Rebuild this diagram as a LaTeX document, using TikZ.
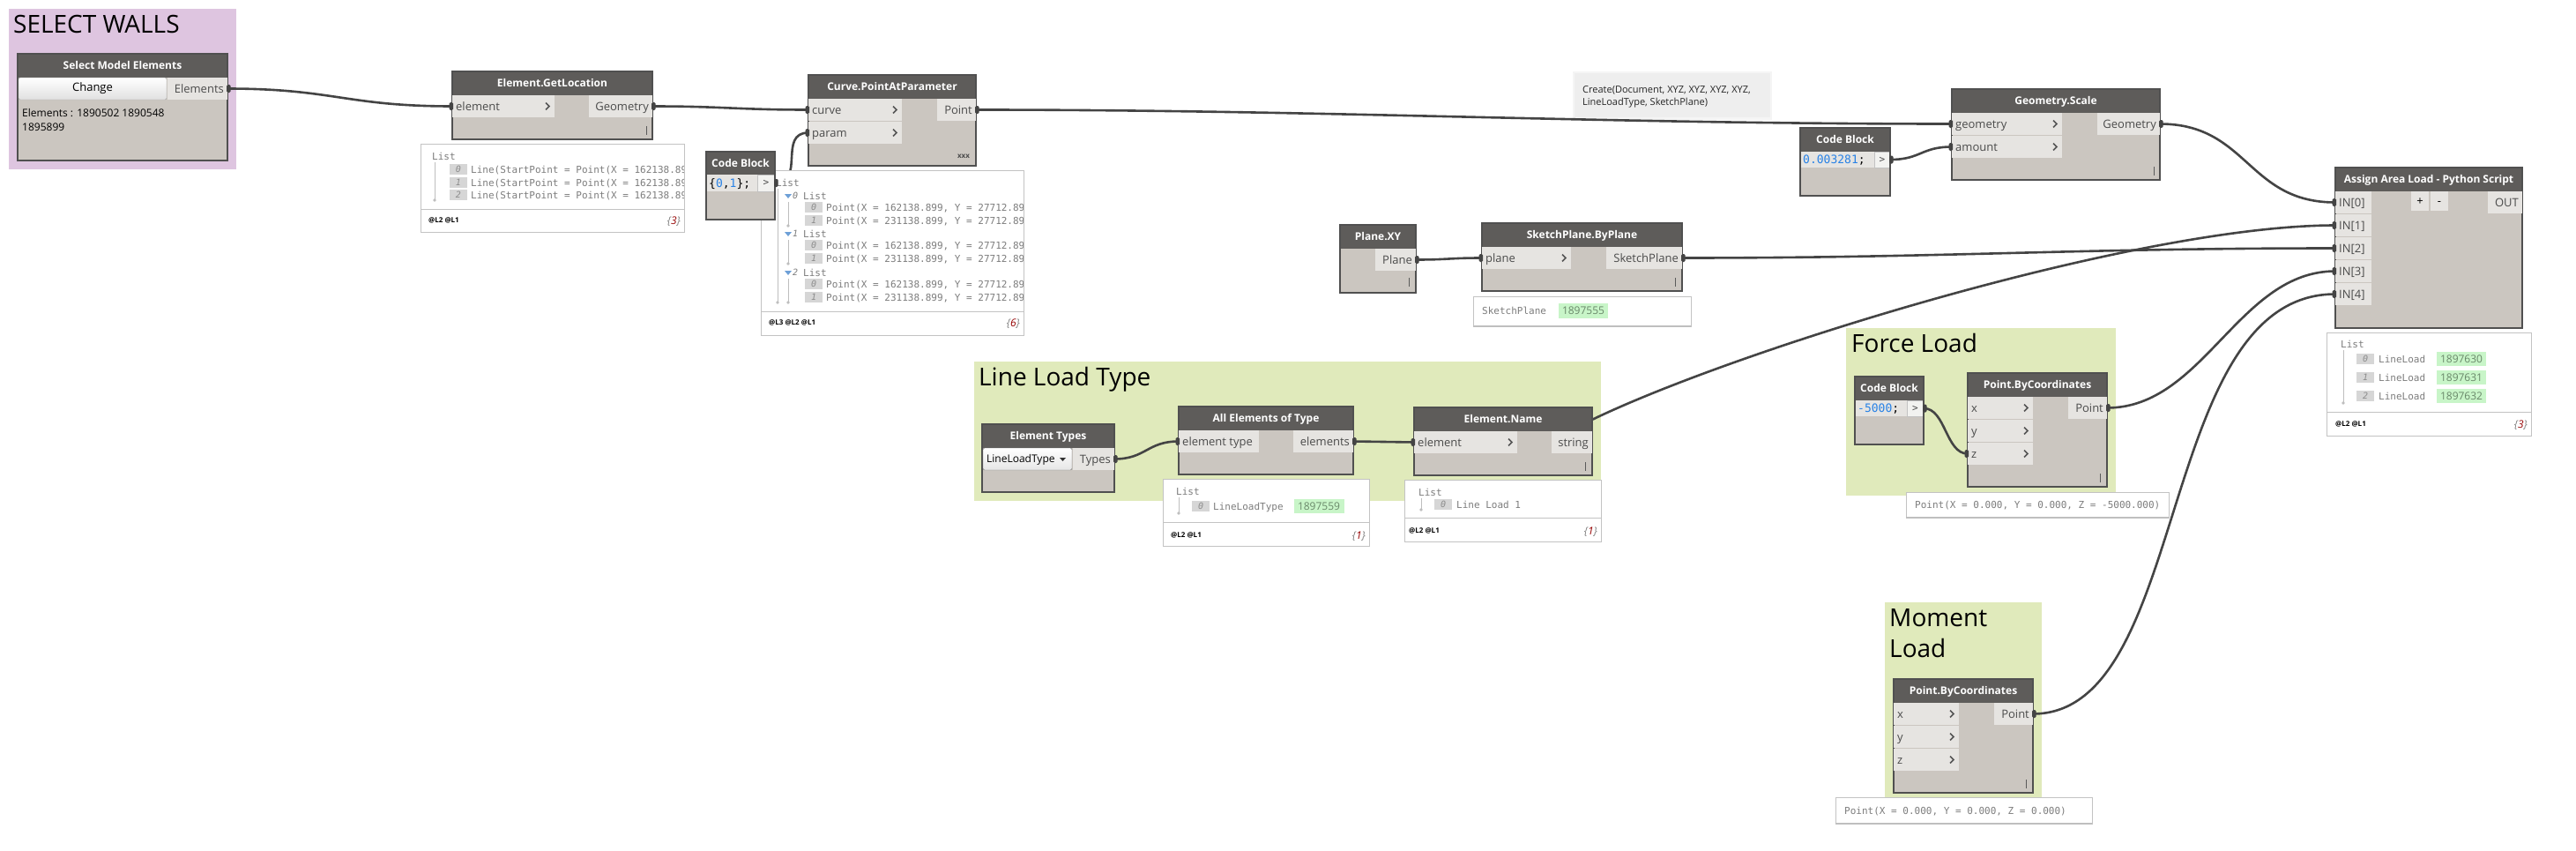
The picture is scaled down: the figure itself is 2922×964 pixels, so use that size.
\documentclass[tikz,border=0pt]{standalone}
\usepackage{fontspec}
\setmainfont{Open Sans}
\newfontfamily\monof{DejaVu Sans Mono}
\usetikzlibrary{calc}
\pgfdeclarelayer{groups}
\pgfdeclarelayer{wires}
\pgfsetlayers{groups,wires,main}
\definecolor{hdrc}{RGB}{94,92,90}
\definecolor{bodyc}{RGB}{203,198,192}
\definecolor{portc}{RGB}{230,228,225}
\definecolor{bordc}{RGB}{80,80,80}
\definecolor{wirec}{RGB}{68,68,68}
\definecolor{ptc}{RGB}{75,75,75}
\definecolor{chevc}{RGB}{85,85,85}
\definecolor{grpP}{RGB}{222,197,224}
\definecolor{grpG}{RGB}{224,234,187}
\definecolor{prevb}{RGB}{195,195,195}
\definecolor{mtc}{RGB}{125,125,125}
\definecolor{codeb}{RGB}{40,130,230}
\definecolor{hlg}{RGB}{200,245,200}
\definecolor{hlt}{RGB}{105,135,105}
\definecolor{idxc}{RGB}{214,214,214}
\definecolor{idxt}{RGB}{140,140,140}
\definecolor{notec}{RGB}{238,238,238}
\definecolor{myred}{RGB}{150,0,0}
\definecolor{treec}{RGB}{190,190,190}
\definecolor{tric}{RGB}{110,160,215}
\definecolor{lacec}{RGB}{90,90,90}
\tikzset{
 grpbox/.style={anchor=north west, inner sep=0pt, outer sep=0pt},
 gtitle/.style={anchor=base west, inner sep=0pt, font=\fontsize{28}{32}\selectfont, text=black},
 dbody/.style={anchor=north west, draw=bordc, fill=bodyc, line width=1.2pt, inner sep=0pt, outer sep=0pt},
 dport/.style={anchor=north west, fill=portc, inner sep=0pt, outer sep=0pt},
 htext/.style={text=white, font=\fontsize{12}{14}\selectfont\bfseries, inner sep=0pt, text height=8.6pt, text depth=0pt},
 ptext/.style={text=ptc, font=\fontsize{13}{15}\selectfont, inner sep=0pt, text height=9.3pt, text depth=0pt},
 btext/.style={text=black, font=\fontsize{12}{14}\selectfont, inner sep=0pt, text height=8.6pt, text depth=0pt, anchor=west},
 wire/.style={draw=wirec, line width=2.6pt},
 chev/.style={draw=chevc, line width=1.6pt},
 prevbox/.style={anchor=north west, draw=prevb, fill=white, line width=1pt, inner sep=0pt, outer sep=0pt},
 mtext/.style={text=mtc, font=\monof\fontsize{11}{13}\selectfont, inner sep=0pt, text height=8pt, text depth=0pt, anchor=west},
 itext/.style={text=idxt, font=\monof\fontsize{10}{12}\selectfont\itshape, inner sep=0pt, text height=7.3pt, text depth=0pt},
 gtext/.style={text=hlt, font=\fontsize{12}{14}\selectfont, inner sep=0pt, text height=8.6pt, text depth=0pt},
 ftext/.style={text=black, font=\fontsize{8}{10}\selectfont\bfseries, inner sep=0pt, text height=5.7pt, text depth=0pt, anchor=west},
 ctext/.style={text=mtc, font=\fontsize{12}{14}\selectfont\itshape, inner sep=0pt, text height=8.6pt, text depth=0pt, anchor=east},
 codetext/.style={font=\monof\fontsize{13}{15}\selectfont, inner sep=0pt, text height=9.5pt, text depth=0pt, anchor=west, text=black},
 lacestyle/.style={draw=lacec, line width=1pt},
 notebox/.style={anchor=north west, fill=notec, inner sep=0pt, outer sep=0pt},
 notetext/.style={anchor=base west, font=\fontsize{11}{13}\selectfont, inner sep=0pt, text=black!85},
 treeline/.style={draw=treec, line width=1pt},
}
% node: name x1 y1 x2 y2 headerbottom title
\newcommand{\dynnode}[7]{%
 \node[dbody, minimum width={#4-#2}, minimum height={#5-#3}] (#1) at (#2,#3) {};
 \fill[hdrc] (#2,#3) rectangle (#4,#6);
 \draw[bordc, line width=1.2pt] (#2,#3) rectangle (#4,#5);
 \node[htext] (#1-title) at ({(#2+#4)/2},{(#3+#6)/2}) {#7};
}
\newcommand{\dynin}[6]{%
 \node[dport, minimum width={#4-#2}, minimum height={#5-#3}] (#1) at (#2,#3) {};
 \node[ptext, anchor=west] (#1-l) at ([xshift=4pt]#1.west) {#6};
 \draw[chev] ([xshift=-10pt,yshift=4pt]#1.east) -- ([xshift=-6pt]#1.east) -- ([xshift=-10pt,yshift=-4pt]#1.east);
}
\newcommand{\dynina}[6]{%
 \node[dport, minimum width={#4-#2}, minimum height={#5-#3}] (#1) at (#2,#3) {};
 \node[ptext, anchor=west] (#1-l) at ([xshift=4pt]#1.west) {#6};
}
\newcommand{\dynout}[6]{%
 \node[dport, minimum width={#4-#2}, minimum height={#5-#3}] (#1) at (#2,#3) {};
 \node[ptext, anchor=east] (#1-l) at ([xshift=-4pt]#1.east) {#6};
}
\newcommand{\dynlace}[2]{\draw[lacestyle] (#1,#2-5) -- (#1,#2+5);}
% code block: name x1 y1 x2 y2 headerbottom codebottom gtx code
\newcommand{\dyncode}[9]{%
 \dynnode{#1}{#2}{#3}{#4}{#5}{#6}{Code Block}
 \fill[portc] (#2,#6) rectangle (#8,#7);
 \node[dport, fill=portc!50!white, draw=bordc!35, line width=0.6pt, minimum width={#4-#8}, minimum height={#7-#6}] (#1-out) at (#8,#6) {};
 \node[text=ptc, font=\monof\fontsize{11}{13}\selectfont, inner sep=0pt] (#1-gt) at (#1-out.center) {>};
 \node[codetext] (#1-code) at ({#2+3},{(#6+#7)/2}) {#9};
 \draw[bordc, line width=1.2pt] (#2,#3) rectangle (#4,#5);
}
\newcommand{\nubo}[1]{\fill[wirec, rounded corners=1.5pt] ([xshift=-1pt,yshift=4.5pt]#1.east) rectangle ([xshift=3.5pt,yshift=-4.5pt]#1.east);}
\newcommand{\nubi}[1]{\fill[wirec, rounded corners=1.5pt] ([xshift=1pt,yshift=4.5pt]#1.west) rectangle ([xshift=-3.5pt,yshift=-4.5pt]#1.west);}
\begin{document}
\begin{tikzpicture}[x=1pt,y=-1pt]
\useasboundingbox (0,0) rectangle (2922,964);
\begin{pgfonlayer}{groups}
\fill[white] (0,0) rectangle (2922,964);
\node[grpbox, fill=grpP, minimum width=258pt, minimum height=182pt] (g-walls) at (10,10) {};
\node[gtitle] (g-walls-t) at (15,37) {SELECT WALLS};
\node[grpbox, fill=grpG, minimum width=711pt, minimum height=158pt] (g-llt) at (1105,410) {};
\node[gtitle] (g-llt-t) at (1110,437) {Line Load Type};
\node[grpbox, fill=grpG, minimum width=306pt, minimum height=190pt] (g-force) at (2094,372) {};
\node[gtitle] (g-force-t) at (2100,399) {Force Load};
\node[grpbox, fill=grpG, minimum width=178pt, minimum height=222pt] (g-moment) at (2138,683) {};
\node[gtitle] (g-moment-t1) at (2143,710) {Moment};
\node[gtitle] (g-moment-t2) at (2143,745) {Load};
\fill[black!4] (1784,81) rectangle (2010,136);
\node[notebox, minimum width=222pt, minimum height=50pt] (note) at (1786,83) {};
\node[notetext] (note-t1) at (1795,105) {Create(Document, XYZ, XYZ, XYZ, XYZ,};
\node[notetext] (note-t2) at (1795,119) {LineLoadType, SketchPlane)};
\end{pgfonlayer}

% ---- Select Model Elements
\dynnode{sme}{20}{61}{258}{182}{88}{Select Model Elements}
\node[anchor=north west, draw=black!35, rounded corners=2pt, top color=white, bottom color=black!12, minimum width=168pt, minimum height=25pt, inner sep=0pt, outer sep=0pt, font=\fontsize{13}{15}\selectfont, text=black] (sme-btn) at (21,88) {Change};
\dynout{sme-out}{190}{88}{258}{113}{Elements}
\node[btext] (sme-t1) at (25,128) {Elements : 1890502 1890548};
\node[btext] (sme-t2) at (25,144) {1895899};

% ---- Element.GetLocation
\dynnode{egl}{513}{81}{740}{158}{108}{Element.GetLocation}
\dynin{egl-in}{513}{108}{629}{133}{element}
\dynout{egl-out}{668}{108}{740}{133}{Geometry}
\dynlace{733}{148}
\node[prevbox, minimum width=299pt, minimum height=100pt] (p2) at (477,163) {};
\draw[prevb, line width=1pt] (477,237) -- (776,237);
\node[mtext] (p2-list) at (490,177) {List};
\draw[treeline] (493,184) -- (493,227);
\fill[treec] (493,227) circle (1.8);
\begin{scope}
\clip (477,163) rectangle (775,237);
\foreach \i/\yy in {0/192,1/207,2/221}{
 \fill[idxc] (510,\yy-6) rectangle (530,\yy+6);
 \node[itext] (p2-i\i) at (520,\yy) {\i};
 \node[mtext] (p2-r\i) at (534,\yy) {Line(StartPoint = Point(X = 162138.899};
}
\end{scope}
\node[ftext] (p2-f) at (486,250) {@L2 @L1};
\node[ctext] (p2-c) at (772,250) {\{\textcolor{myred}{3}\}};

% ---- Curve.PointAtParameter
\dynnode{cpp}{917}{85}{1107}{188}{112}{Curve.PointAtParameter}
\dynin{cpp-curve}{917}{112}{1023}{137}{curve}
\dynin{cpp-param}{917}{138}{1023}{163}{param}
\dynout{cpp-out}{1063}{112}{1107}{137}{Point}
\node[font=\fontsize{8}{9}\selectfont\bfseries, text=ptc, inner sep=0pt] (cpp-lace) at (1093,177) {xxx};
\node[prevbox, minimum width=298pt, minimum height=187pt] (p3) at (863,193) {};
\draw[prevb, line width=1pt] (863,353) -- (1161,353);
\node[mtext] (p3-list) at (880,207) {List};
\draw[treeline] (882,214) -- (882,343);
\fill[treec] (882,343) circle (1.8);
\begin{scope}
\clip (863,193) rectangle (1160,353);
\foreach \k/\yy in {0/222,1/265,2/309}{
 \fill[tric] (890,\yy-2) -- (898,\yy-2) -- (894,\yy+3) -- cycle;
 \node[itext, anchor=west, text=mtc] (p3-s\k) at (899,\yy) {\k};
 \node[mtext] (p3-sl\k) at (911,\yy) {List};
 \draw[treeline] (894,\yy+7) -- (894,\yy+34);
 \fill[treec] (894,\yy+34) circle (1.8);
 \fill[idxc] (913,\yy+7) rectangle (933,\yy+19);
 \node[itext] (p3-a\k) at (923,\yy+13) {0};
 \node[mtext] (p3-ar\k) at (937,\yy+13) {Point(X = 162138.899, Y = 27712.899};
 \fill[idxc] (913,\yy+22) rectangle (933,\yy+34);
 \node[itext] (p3-b\k) at (923,\yy+28) {1};
 \node[mtext] (p3-br\k) at (937,\yy+28) {Point(X = 231138.899, Y = 27712.899};
}
\end{scope}
\node[ftext] (p3-f) at (872,366) {@L3 @L2 @L1};
\node[ctext] (p3-c) at (1157,366) {\{\textcolor{myred}{6}\}};
\dyncode{cb1}{801}{172}{879}{249}{198}{217}{859}{\{\textcolor{codeb}{0},\textcolor{codeb}{1}\};}

% ---- Geometry.Scale
\dynnode{gs}{2214}{101}{2450}{204}{128}{Geometry.Scale}
\dynin{gs-geo}{2214}{128}{2339}{153}{geometry}
\dynin{gs-amt}{2214}{154}{2339}{179}{amount}
\dynout{gs-out}{2379}{128}{2450}{153}{Geometry}
\dynlace{2443}{194}
\dyncode{cb2}{2042}{145}{2144}{222}{172}{190}{2126}{\textcolor{codeb}{0.003281};}

% ---- Plane.XY, SketchPlane.ByPlane
\dynnode{pxy}{1520}{255}{1606}{332}{282}{Plane.XY}
\dynout{pxy-out}{1560}{282}{1606}{307}{Plane}
\dynlace{1598}{320}
\dynnode{spb}{1681}{253}{1908}{330}{280}{SketchPlane.ByPlane}
\dynin{spb-in}{1681}{280}{1782}{305}{plane}
\dynout{spb-out}{1822}{280}{1908}{305}{SketchPlane}
\dynlace{1900}{320}
\node[prevbox, minimum width=247pt, minimum height=34pt] (p7) at (1671,336) {};
\draw[black!25, line width=1.5pt] (1671,370) -- (1918,370);
\node[mtext] (p7-t) at (1681,352) {SketchPlane};
\node[fill=hlg, minimum width=56pt, minimum height=17pt, inner sep=0pt] (p7-h) at (1796,352) {};
\node[gtext] (p7-ht) at (1796,352) {1897555};

% ---- Assign Area Load
\dynnode{aal}{2649}{190}{2861}{372}{217}{Assign Area Load - Python Script}
\dynina{aal-in0}{2649}{217}{2690}{242}{IN[0]}
\dynina{aal-in1}{2649}{243}{2690}{268}{IN[1]}
\dynina{aal-in2}{2649}{269}{2690}{294}{IN[2]}
\dynina{aal-in3}{2649}{295}{2690}{320}{IN[3]}
\dynina{aal-in4}{2649}{321}{2690}{346}{IN[4]}
\node[dport, minimum width=20pt, minimum height=22pt] (aal-plus) at (2735,217) {};
\node[ptext, text=black] (aal-plus-l) at (aal-plus.center) {+};
\node[dport, minimum width=20pt, minimum height=22pt] (aal-minus) at (2757,217) {};
\node[ptext, text=black] (aal-minus-l) at (aal-minus.center) {-};
\dynout{aal-out}{2822}{217}{2861}{242}{OUT}
\node[prevbox, minimum width=232pt, minimum height=117pt] (p8) at (2639,377) {};
\draw[prevb, line width=1pt] (2639,467) -- (2871,467);
\node[mtext] (p8-list) at (2655,390) {List};
\draw[treeline] (2658,397) -- (2658,457);
\fill[treec] (2658,457) circle (1.8);
\foreach \i/\yy/\v in {0/407/1897630,1/428/1897631,2/449/1897632}{
 \fill[idxc] (2673,\yy-6) rectangle (2693,\yy+6);
 \node[itext] (p8-i\i) at (2683,\yy) {\i};
 \node[mtext] (p8-r\i) at (2698,\yy) {LineLoad};
 \node[fill=hlg, minimum width=56pt, minimum height=16pt, inner sep=0pt] (p8-h\i) at (2792,\yy) {};
 \node[gtext] (p8-ht\i) at (2792,\yy) {\v};
}
\node[ftext] (p8-f) at (2649,481) {@L2 @L1};
\node[ctext] (p8-c) at (2867,481) {\{\textcolor{myred}{3}\}};

% ---- Line Load Type group
\dynnode{et}{1114}{481}{1264}{558}{508}{Element Types}
\node[anchor=north west, draw=bordc!80, rounded corners=2pt, top color=white, bottom color=black!10, minimum width=101pt, minimum height=25pt, inner sep=0pt, outer sep=0pt] (et-dd) at (1115,508) {};
\node[btext] (et-dd-t) at (1119,520.5) {LineLoadType};
\fill[black!80] (1202,519) -- (1209,519) -- (1205.5,523) -- cycle;
\dynout{et-out}{1217}{508}{1264}{533}{Types}

\dynnode{aet}{1337}{461}{1535}{538}{488}{All Elements of Type}
\dynina{aet-in}{1337}{488}{1428}{513}{element type}
\dynout{aet-out}{1467}{488}{1535}{513}{elements}
\node[prevbox, minimum width=234pt, minimum height=76pt] (p10) at (1319,543) {};
\draw[prevb, line width=1pt] (1319,592) -- (1553,592);
\node[mtext] (p10-list) at (1334,557) {List};
\draw[treeline] (1337,564) -- (1337,582);
\fill[treec] (1337,582) circle (1.8);
\fill[idxc] (1352,568) rectangle (1372,580);
\node[itext] (p10-i0) at (1362,574) {0};
\node[mtext] (p10-r0) at (1376,574) {LineLoadType};
\node[fill=hlg, minimum width=57pt, minimum height=16pt, inner sep=0pt] (p10-h) at (1496,574) {};
\node[gtext] (p10-ht) at (1496,574) {1897559};
\node[ftext] (p10-f) at (1328,607) {@L2 @L1};
\node[ctext] (p10-c) at (1549,607) {\{\textcolor{myred}{1}\}};

\dynnode{en}{1604}{462}{1806}{539}{489}{Element.Name}
\dynin{en-in}{1604}{489}{1721}{514}{element}
\dynout{en-out}{1760}{489}{1806}{514}{string}
\dynlace{1798}{529}
\node[prevbox, minimum width=223pt, minimum height=70pt] (p11) at (1593,544) {};
\draw[prevb, line width=1pt] (1593,587) -- (1816,587);
\node[mtext] (p11-list) at (1609,558) {List};
\draw[treeline] (1612,565) -- (1612,578);
\fill[treec] (1612,578) circle (1.8);
\fill[idxc] (1627,566) rectangle (1647,578);
\node[itext] (p11-i0) at (1637,572) {0};
\node[mtext] (p11-r0) at (1652,572) {Line Load 1};
\node[ftext] (p11-f) at (1598,602) {@L2 @L1};
\node[ctext] (p11-c) at (1812,602) {\{\textcolor{myred}{1}\}};

% ---- Force Load
\dyncode{cb3}{2104}{427}{2182}{504}{454}{472}{2163}{\textcolor{codeb}{-5000};}
\dynnode{pbc1}{2232}{423}{2390}{552}{450}{Point.ByCoordinates}
\dynin{pbc1-x}{2232}{450}{2306}{475}{x}
\dynin{pbc1-y}{2232}{476}{2306}{501}{y}
\dynin{pbc1-z}{2232}{502}{2306}{527}{z}
\dynout{pbc1-out}{2346}{450}{2390}{475}{Point}
\dynlace{2382}{542}
\node[prevbox, minimum width=298pt, minimum height=29pt] (p13) at (2162,558) {};
\draw[black!25, line width=1.5pt] (2162,587) -- (2460,587);
\node[mtext] (p13-t) at (2172,572) {Point(X = 0.000, Y = 0.000, Z = -5000.000)};

% ---- Moment Load
\dynnode{pbc2}{2148}{770}{2306}{899}{797}{Point.ByCoordinates}
\dynin{pbc2-x}{2148}{797}{2222}{822}{x}
\dynin{pbc2-y}{2148}{823}{2222}{848}{y}
\dynin{pbc2-z}{2148}{849}{2222}{874}{z}
\dynout{pbc2-out}{2262}{797}{2306}{822}{Point}
\dynlace{2298}{889}
\node[prevbox, minimum width=291pt, minimum height=30pt] (p14) at (2082,904) {};
\draw[black!25, line width=1.5pt] (2082,934) -- (2373,934);
\node[mtext] (p14-t) at (2092,919) {Point(X = 0.000, Y = 0.000, Z = 0.000)};

% ---- wires
\begin{pgfonlayer}{wires}
\draw[wire] (sme-out.east) .. controls +(120,0) and +(-120,0) .. (egl-in.west);
\draw[wire] (egl-out.east) .. controls +(80,0) and +(-80,0) .. (cpp-curve.west);
\draw[wire] (cb1-out.east) .. controls +(35,0) and +(-35,0) .. (cpp-param.west);
\draw[wire] (cpp-out.east) .. controls +(400,0) and +(-400,0) .. (gs-geo.west);
\draw[wire] (cb2-out.east) .. controls +(35,0) and +(-35,0) .. (gs-amt.west);
\draw[wire] (gs-out.east) .. controls +(100,0) and +(-100,0) .. (aal-in0.west);
\draw[wire] (pxy-out.east) .. controls +(37,0) and +(-37,0) .. (spb-in.west);
\draw[wire] (spb-out.east) .. controls +(300,0) and +(-300,0) .. (aal-in2.west);
\draw[wire] (en-out.west) .. controls +(100,-70) and +(-250,0) .. (aal-in1.west);
\draw[wire] (pbc1-out.east) .. controls +(110,0) and +(-110,0) .. (aal-in3.west);
\draw[wire] (pbc2-out.east) .. controls +(180,0) and +(-205,0) .. (aal-in4.west);
\draw[wire] (et-out.east) .. controls +(36,0) and +(-36,0) .. (aet-in.west);
\draw[wire] (aet-out.east) .. controls +(34,0) and +(-34,0) .. (en-in.west);
\draw[wire] (cb3-out.east) .. controls +(25,0) and +(-25,0) .. (pbc1-z.west);
\end{pgfonlayer}

% ---- port nubs
\nubo{sme-out}\nubi{egl-in}\nubo{egl-out}\nubi{cpp-curve}\nubi{cpp-param}
\nubo{cb1-out}\nubo{cpp-out}\nubi{gs-geo}\nubo{cb2-out}\nubi{gs-amt}\nubo{gs-out}
\nubi{aal-in0}\nubi{aal-in1}\nubi{aal-in2}\nubi{aal-in3}\nubi{aal-in4}
\nubo{pxy-out}\nubi{spb-in}\nubo{spb-out}
\nubo{et-out}\nubi{aet-in}\nubo{aet-out}\nubi{en-in}
\nubo{pbc1-out}\nubo{cb3-out}\nubi{pbc1-z}\nubo{pbc2-out}
\end{tikzpicture}
\end{document}
